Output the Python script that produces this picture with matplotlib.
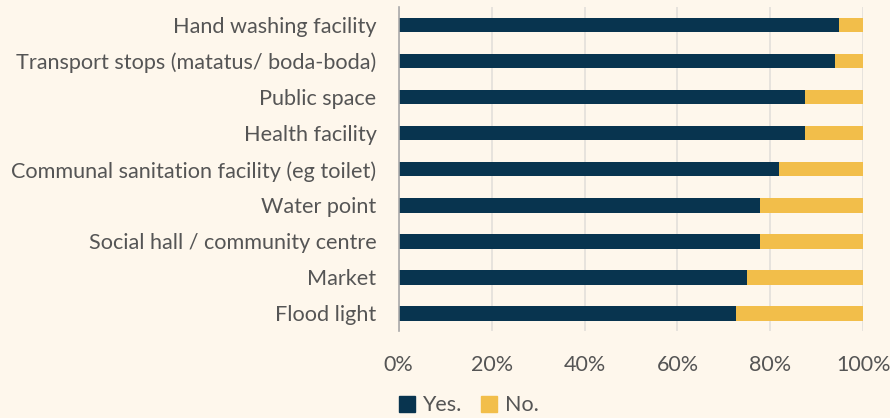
import matplotlib.pyplot as plt
from matplotlib.patches import Patch

# Facilities and share of "Yes." answers (%)
facilities = ['Hand washing facility',
              'Transport stops (matatus/ boda-boda)',
              'Public space',
              'Health facility',
              'Communal sanitation facility (eg toilet)',
              'Water point',
              'Social hall / community centre',
              'Market',
              'Flood light']
yes = [94.8, 93.9, 87.4, 87.4, 81.9, 77.8, 77.7, 74.9, 72.5]
no = [100 - v for v in yes]

xticks = [0, 20, 40, 60, 80, 100]
xtick_labels = ['0%', '20%', '40%', '60%', '80%', '100%']

bg = '#FEF7EC'
navy = '#08344F'
gold = '#F2BE4A'
txt = '#555555'

plt.rcParams['font.family'] = ['Lato', 'DejaVu Sans']

fig = plt.figure(figsize=(8.9, 4.18), dpi=100, facecolor=bg)
ax = fig.add_axes([0.448, 0.207, 0.522, 0.776], facecolor=bg)

pos = range(len(facilities))
ax.barh(pos, yes, height=0.4, color=navy, zorder=3)
ax.barh(pos, no, left=yes, height=0.4, color=gold, zorder=3)

ax.set_ylim(len(facilities) - 0.5, -0.5)
ax.set_xlim(0, 100)
ax.set_yticks(list(pos))
ax.set_yticklabels(facilities, fontsize=15.6, color=txt)
ax.set_xticks(xticks)
ax.set_xticklabels(xtick_labels, fontsize=15.5, color=txt)
ax.tick_params(axis='y', length=0, pad=16)
ax.tick_params(axis='x', length=0, pad=17)

ax.grid(axis='x', color='#E3E0DA', linewidth=1.2, zorder=0)
for s in ['top', 'right', 'bottom']:
    ax.spines[s].set_visible(False)
ax.spines['left'].set_color('#AAAAAA')
ax.spines['left'].set_linewidth(1.2)
ax.spines['left'].set_zorder(4)

handles = [Patch(color=navy, label='Yes.'), Patch(color=gold, label='No.')]
fig.legend(handles=handles, loc='center left', bbox_to_anchor=(0.426, 0.03),
           ncol=2, frameon=False, fontsize=15.5, handlelength=0.75, handleheight=0.75,
           handletextpad=0.35, columnspacing=0.9, labelcolor=txt)

plt.savefig('out.png', dpi=100, facecolor=bg)
